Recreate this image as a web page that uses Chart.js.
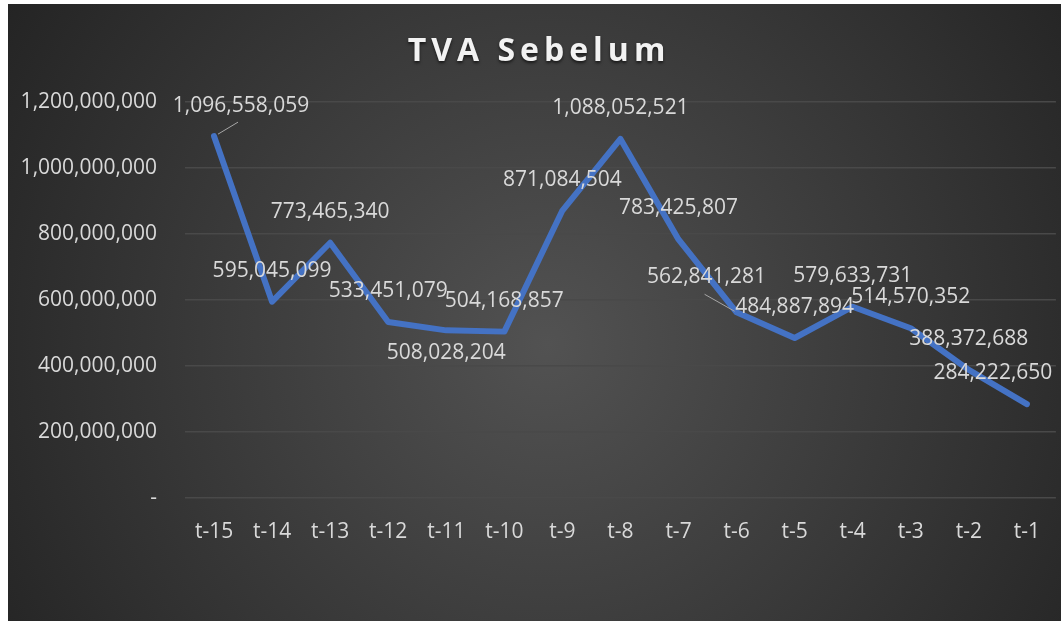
<!DOCTYPE html>
<html>
<head>
<meta charset="utf-8">
<script src="https://cdn.jsdelivr.net/npm/chart.js@4"></script>
<style>
  body { margin: 0; background: #ffffff; }
  #wrap { position: absolute; left: 8px; top: 4px; width: 1053px; height: 617px; }
</style>
</head>
<body>
<div id="wrap"><canvas id="myLineChart" width="1053" height="617"></canvas></div>
<script>
// data
var periods = ['t-15', 't-14', 't-13', 't-12', 't-11', 't-10', 't-9', 't-8', 't-7', 't-6', 't-5', 't-4', 't-3', 't-2', 't-1'];
var tvaSebelum = [1096558059, 595045099, 773465340, 533451079, 508028204, 504168857, 871084504, 1088052521, 783425807, 562841281, 484887894, 579633731, 514570352, 388372688, 284222650];
var yTicks = [0, 200000000, 400000000, 600000000, 800000000, 1000000000, 1200000000];

var chartTitle = 'TVA Sebelum';
var textColor = '#d9d9d9';
var fontFamily = '"Open Sans", "Liberation Sans", sans-serif';

// label placement (dx, dy from the point), leader lines where excel drew them
var labelShift = {
    0: { dx: 27, dy: -30, leader: [4, -2, 24, -14] },
    4: { dx: 0, dy: 23 },
    9: { dx: -30, dy: -35, leader: [-2, -1, -32, -18] },
    14: { dx: -34, dy: -31 }
};

function fmt(v) {
    return v.toLocaleString('en-US');
}

// dark radial background
var bgPlugin = {
    id: 'bg',
    beforeDraw: function (chart) {
        var c = chart.ctx;
        var g = c.createRadialGradient(540, 340, 0, 540, 340, 640);
        g.addColorStop(0, '#525252');
        g.addColorStop(1, '#242424');
        c.save();
        c.fillStyle = g;
        c.fillRect(0, 0, chart.width, chart.height);
        c.restore();
    }
};

// spaced title like the excel style
var titlePlugin = {
    id: 'spacedTitle',
    afterDraw: function (chart) {
        var c = chart.ctx;
        c.save();
        c.font = 'bold 32px ' + fontFamily;
        c.letterSpacing = '5px';
        c.textAlign = 'center';
        c.textBaseline = 'middle';
        c.shadowColor = 'rgba(0,0,0,0.6)';
        c.shadowOffsetY = 2;
        c.shadowBlur = 3;
        c.fillStyle = '#f2f2f2';
        c.fillText(chartTitle, 531, 48);
        c.restore();
    }
};

var labelPlugin = {
    id: 'pointLabels',
    afterDatasetsDraw: function (chart) {
        var c = chart.ctx;
        var meta = chart.getDatasetMeta(0);
        var data = chart.data.datasets[0].data;
        c.save();
        c.font = '21px ' + fontFamily;
        c.fillStyle = textColor;
        c.textAlign = 'center';
        c.textBaseline = 'middle';
        meta.data.forEach(function (pt, i) {
            var s = labelShift[i] || { dx: 0, dy: -31 };
            if (s.leader) {
                c.strokeStyle = '#a6a6a6';
                c.lineWidth = 1;
                c.beginPath();
                c.moveTo(pt.x + s.leader[0], pt.y + s.leader[1]);
                c.lineTo(pt.x + s.leader[2], pt.y + s.leader[3]);
                c.stroke();
            }
            c.fillText(fmt(data[i]), pt.x + s.dx, pt.y + s.dy);
        });
        c.restore();
    }
};

var ctx = document.getElementById('myLineChart').getContext('2d');
var myLineChart = new Chart(ctx, {
    type: 'line',
    data: {
        labels: periods,
        datasets: [{
            label: chartTitle,
            data: tvaSebelum,
            borderColor: '#4472c4',
            borderWidth: 6,
            borderCapStyle: 'round',
            borderJoinStyle: 'round',
            pointRadius: 0,
            pointHoverRadius: 0,
            tension: 0,
            fill: false
        }]
    },
    options: {
        responsive: false,
        animation: false,
        layout: {
            padding: { top: 98, right: 0, bottom: 0, left: 0 }
        },
        plugins: {
            legend: { display: false },
            title: { display: false },
            tooltip: { enabled: false }
        },
        scales: {
            x: {
                offset: true,
                grid: { display: false, drawTicks: false },
                border: { display: false },
                ticks: {
                    color: textColor,
                    font: { family: fontFamily, size: 21 },
                    padding: 21,
                    maxRotation: 0,
                    autoSkip: false
                },
                afterFit: function (scale) { scale.height = 123; }
            },
            y: {
                min: 0,
                max: 1200000000,
                afterBuildTicks: function (scale) {
                    scale.ticks = yTicks.map(function (v) { return { value: v }; });
                },
                grid: { color: '#494949', lineWidth: 1.5, drawTicks: false },
                border: { display: false },
                ticks: {
                    color: textColor,
                    font: { family: fontFamily, size: 21 },
                    padding: 28,
                    callback: function (value) {
                        return value === 0 ? '-' : fmt(value);
                    }
                },
                afterFit: function (scale) { scale.width = 177; }
            }
        }
    },
    plugins: [bgPlugin, titlePlugin, labelPlugin]
});
</script>
</body>
</html>
